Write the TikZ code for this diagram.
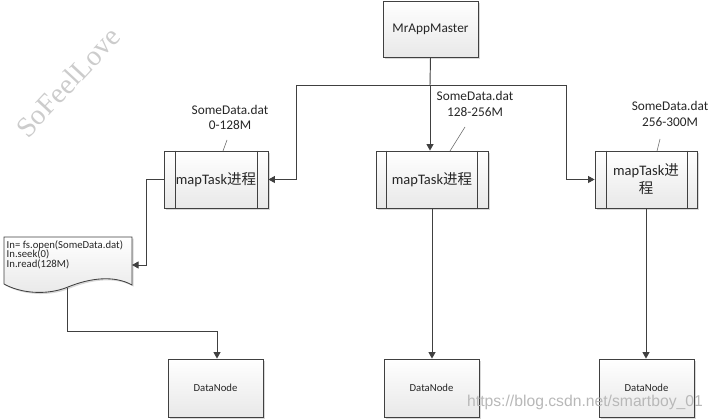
\documentclass[tikz,border=0pt]{standalone}
\usepackage{fontspec}
\setmainfont{Carlito}
\newfontfamily\cjk{Noto Sans CJK SC}
\newfontfamily\wmserif{Liberation Serif}
\newfontfamily\wmsans{Liberation Sans}
\usetikzlibrary{arrows.meta,calc,shadows}
\begin{document}
\begin{tikzpicture}[x=1pt,y=-1pt,
  box/.style={draw=black!75, line width=0.85pt, top color=white, bottom color=black!9,
    drop shadow={shadow xshift=1.6pt,shadow yshift=-1.6pt,fill=black!30,opacity=.5},
    inner sep=0pt, text=black!85, font=\fontsize{13.3}{15}\selectfont},
  dnbox/.style={box, minimum width=95pt, minimum height=58pt, font=\fontsize{10.7}{12}\selectfont},
  taskbox/.style={box, minimum height=57pt, align=center, font=\fontsize{14.5}{18}\selectfont},
  conn/.style={draw=black!75, line width=0.95pt},
  arr/.style={conn, -{Triangle[length=6.5pt,width=7pt]}},
  lbl/.style={align=center, inner sep=0pt, text=black!85, font=\fontsize{13.3}{15.5}\selectfont},
  callout/.style={draw=black!55, line width=0.6pt},
  inner/.style={draw=black!75, line width=0.85pt}
]
\useasboundingbox (0,0) rectangle (713,419);

% watermark (left)
\node[rotate=47, text=black!20, font=\wmserif\fontsize{28.5}{28.5}\selectfont] (wm1) at (68,82) {SoFeelLove};

% master
\node[box, minimum width=95pt, minimum height=56pt] (M) at (430.5,29) {MrAppMaster};

% map tasks
\node[taskbox, minimum width=104pt] (t1) at (216,179.5) {mapTask{\cjk 进程}};
\node[taskbox, minimum width=112pt] (t2) at (432,179.5) {mapTask{\cjk 进程}};
\node[taskbox, minimum width=102pt] (t3) at (646,179.5) {mapTask{\cjk 进}\\{\cjk 程}};
\foreach \t/\a/\b in {t1/12/11, t2/11/11, t3/12/10}{
  \draw[inner] ($(\t.north west)+(\a,0)$) -- ($(\t.south west)+(\a,0)$);
  \draw[inner] ($(\t.north east)+(-\b,0)$) -- ($(\t.south east)+(-\b,0)$);
}

% labels and callouts
\node[lbl] (l1) at (230,117.5) {SomeData.dat\\0-128M};
\node[lbl] (l2) at (475,104) {SomeData.dat\\128-256M};
\node[lbl] (l3) at (670,114) {SomeData.dat\\256-300M};
\coordinate (c1a) at (227,140); \coordinate (c1b) at (223,151);
\coordinate (c2a) at (465,127); \coordinate (c2b) at (450,151);
\coordinate (c3a) at (660,139); \coordinate (c3b) at (657,151);
\draw[callout] (c1a) -- (c1b);
\draw[callout] (c2a) -- (c2b);
\draw[callout] (c3a) -- (c3b);

% document shape
\draw[draw=black!75, line width=0.85pt, top color=white, bottom color=black!9,
    drop shadow={shadow xshift=1.6pt,shadow yshift=-1.6pt,fill=black!30,opacity=.5}]
  (4,237) -- (132,237) -- (132,285)
  .. controls (114,275) and (90,278) .. (68,287)
  .. controls (46,296) and (20,293) .. (4,284) -- cycle;
\node[anchor=north west, align=left, inner sep=0pt, text=black!85, font=\fontsize{10.7}{9.8}\selectfont] (doc) at (6.5,240)
  {In= fs.open(SomeData.dat)\\In.seek(0)\\In.read(128M)};

% data nodes
\node[dnbox] (d1) at (215.5,388) {DataNode};
\node[dnbox] (d2) at (431.5,388) {DataNode};
\node[dnbox] (d3) at (646.5,388) {DataNode};

% connectors
\coordinate (j) at (430,85);
\coordinate (jl) at (296,85);
\coordinate (jr) at (566,85);
\draw[conn] (M.south) -- (j);
\draw[conn] (jl) -- (jr);
\draw[arr] (jl) |- (t1.east);
\draw[arr] (jr) |- (t3.west);
\draw[arr] (j) -- (j |- t2.north);

\coordinate (k) at (146,179.5);
\coordinate (docin) at (132,265);
\draw[arr] (t1.west) -- (k) |- (docin);

\coordinate (docout) at (67,288);
\coordinate (b1) at (217,331);
\draw[arr] (docout) |- (b1) -- (b1 |- d1.north);

\draw[arr] (t2.south) -- (t2.south |- d2.north);
\draw[arr] (t3.south) -- (t3.south |- d3.north);

% watermark (bottom right)
\node[anchor=west, inner sep=0pt, text=black!28, font=\wmsans\fontsize{15.7}{16}\selectfont] (wm2) at (467,402) {https://blog.csdn.net/smartboy\_01};
\end{tikzpicture}
\end{document}
